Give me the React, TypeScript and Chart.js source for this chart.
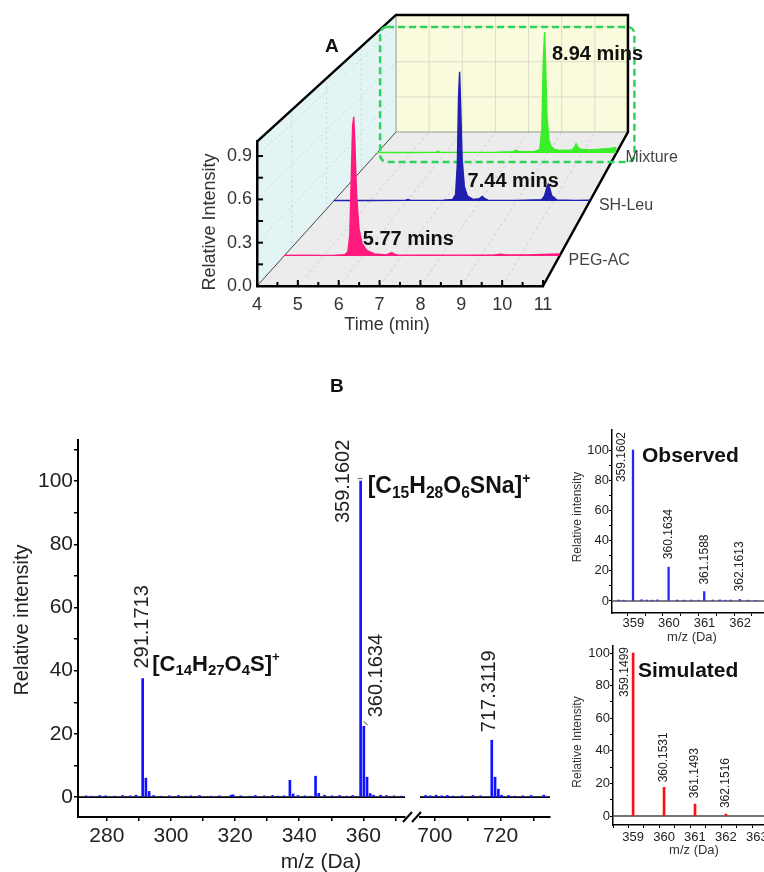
import React, { useEffect, useRef } from 'react';
import { Chart, registerables } from 'chart.js';

Chart.register(...registerables);
const FAMILY = '"Liberation Sans", Arial, Helvetica, sans-serif';
Chart.defaults.font.family = FAMILY;

// ================= Panel A : chromatograms =================
const timeTicks = [4, 5, 6, 7, 8, 9, 10, 11];
const timeMinorTicks = [4, 4.5, 5, 5.5, 6, 6.5, 7, 7.5, 8, 8.5, 9, 9.5, 10, 10.5, 11];
const intensityTicks = [0, 0.3, 0.6, 0.9];
const intensityMinorTicks = [0, 0.15, 0.3, 0.45, 0.6, 0.75, 0.9];
const traceNames = ['PEG-AC', 'SH-Leu', 'Mixture'];
const retentionTimes = [5.77, 7.44, 8.94];
const retentionLabels = ['5.77 mins', '7.44 mins', '8.94 mins'];

const pegTime = [4.0, 4.5, 5.0, 5.3, 5.55, 5.62, 5.67, 5.71, 5.74, 5.77, 5.8, 5.84, 5.9, 5.98, 6.1, 6.3, 6.6, 6.68, 6.74, 6.8, 6.9, 7.5, 8.5, 9.35, 9.5, 9.65, 10.2, 10.8, 11.0];
const pegIntensity = [0.004, 0.006, 0.004, 0.005, 0.01, 0.03, 0.15, 0.6, 0.93, 1.0, 0.8, 0.45, 0.2, 0.09, 0.04, 0.015, 0.008, 0.018, 0.024, 0.012, 0.006, 0.005, 0.006, 0.008, 0.013, 0.008, 0.008, 0.012, 0.014];

const shTime = [4.0, 5.0, 5.95, 6.03, 6.1, 7.0, 7.25, 7.33, 7.38, 7.41, 7.44, 7.47, 7.51, 7.57, 7.65, 7.8, 7.98, 8.06, 8.13, 8.22, 9.0, 9.68, 9.76, 9.82, 9.86, 9.9, 9.96, 10.1, 10.6, 11.0];
const shIntensity = [0.004, 0.004, 0.005, 0.012, 0.005, 0.006, 0.012, 0.05, 0.3, 0.8, 1.0, 0.72, 0.32, 0.11, 0.04, 0.012, 0.018, 0.035, 0.018, 0.006, 0.005, 0.01, 0.04, 0.1, 0.13, 0.1, 0.04, 0.008, 0.005, 0.006];

const mixTime = [4.0, 5.0, 5.72, 5.78, 5.84, 6.5, 7.5, 7.98, 8.06, 8.14, 8.6, 8.76, 8.82, 8.86, 8.9, 8.93, 8.97, 9.03, 9.1, 9.2, 9.35, 9.7, 9.78, 9.82, 9.86, 9.95, 10.2, 10.5, 10.8, 11.0];
const mixIntensity = [0.004, 0.004, 0.005, 0.014, 0.005, 0.005, 0.006, 0.01, 0.022, 0.012, 0.01, 0.03, 0.2, 0.75, 1.0, 0.72, 0.3, 0.1, 0.05, 0.03, 0.02, 0.025, 0.05, 0.075, 0.05, 0.03, 0.025, 0.03, 0.038, 0.045];

// ================= Panel B : mass spectra =================
const mainLeftTicks = [280, 290, 300, 310, 320, 330, 340, 350, 360, 370];
const mainRightTicks = [700, 710, 720, 730];
const relIntTicks = [0, 10, 20, 30, 40, 50, 60, 70, 80, 90, 100, 110];

const leftPeakMz = [291.17, 292.17, 293.18, 337.1, 338.1, 345.1, 346.1, 359.16, 360.16, 361.16, 362.16, 363.17];
const leftPeakInt = [37.5, 6.0, 1.8, 5.3, 1.0, 6.6, 1.2, 100, 22.4, 6.3, 1.1, 0.6];
const leftNoiseMz = [273.5, 275.2, 277.8, 279.6, 282.4, 284.9, 287.3, 289.1, 294.6, 296.8, 299.5, 302.3, 304.7, 306.2, 308.9, 312.5, 315.1, 318.7, 319.4, 321.8, 324.6, 326.3, 329.1, 331.7, 333.4, 335.2, 339.6, 341.8, 343.5, 347.9, 350.2, 352.6, 354.8, 356.7, 365.4, 367.2, 369.6, 371.8];
const leftNoiseInt = [0.4, 0.3, 0.5, 0.4, 0.3, 0.5, 0.4, 0.6, 0.5, 0.3, 0.4, 0.5, 0.3, 0.4, 0.5, 0.3, 0.4, 0.6, 0.7, 0.4, 0.3, 0.5, 0.4, 0.5, 0.3, 0.4, 0.5, 0.4, 0.3, 0.6, 0.4, 0.5, 0.3, 0.5, 0.6, 0.5, 0.4, 0.3];
const rightPeakMz = [717.31, 718.31, 719.31, 720.31];
const rightPeakInt = [18, 6.3, 2.5, 0.6];
const rightNoiseMz = [697.2, 698.6, 700.4, 702.1, 703.8, 705.5, 708.3, 711.6, 713.9, 722.4, 724.2, 726.7, 729.3, 733.1];
const rightNoiseInt = [0.5, 0.4, 0.6, 0.4, 0.5, 0.3, 0.4, 0.5, 0.4, 0.5, 0.3, 0.4, 0.5, 0.6];

const mainLeftLabelIdx = [0, 7, 8];
const mainLeftLabelText = ['291.1713', '359.1602', '360.1634'];
const mainRightLabelText = ['717.3119'];
const formulaIdx = [0, 7];
const formulaText = ['[C14H27O4S]+', '[C15H28O6SNa]+'];

// Observed / simulated isotope patterns
const obsMz = [359.16, 360.16, 361.16, 362.16];
const obsInt = [100, 22.4, 6.2, 1.0];
const obsLabels = ['359.1602', '360.1634', '361.1588', '362.1613'];
const obsNoiseMz = [358.75, 358.9, 359.4, 359.55, 359.7, 359.85, 360.4, 360.6, 360.8, 361.0, 361.4, 361.6, 361.75, 361.9, 362.4, 362.6];
const obsNoiseInt = [0.6, 0.5, 0.8, 0.6, 0.5, 0.7, 0.6, 0.5, 0.6, 0.5, 0.6, 0.7, 0.5, 0.6, 0.5, 0.4];
const simMz = [359.15, 360.15, 361.15, 362.15];
const simInt = [100, 17.6, 7.3, 1.2];
const simLabels = ['359.1499', '360.1531', '361.1493', '362.1516'];
const obsMzTicks = [359, 359.5, 360, 360.5, 361, 361.5, 362, 362.5];
const simMzTicks = [358.5, 359, 359.5, 360, 360.5, 361, 361.5, 362, 362.5, 363];
const insetIntTicks = [0, 10, 20, 30, 40, 50, 60, 70, 80, 90, 100];

// ================= helpers =================
type Pt = [number, number];
type Box = [number, number, number, number];

function seg(ctx: CanvasRenderingContext2D, a: Pt, b: Pt, color: string, width: number, dash: number[] = []) {
  ctx.save();
  ctx.beginPath();
  ctx.setLineDash(dash);
  ctx.strokeStyle = color;
  ctx.lineWidth = width;
  ctx.moveTo(a[0], a[1]);
  ctx.lineTo(b[0], b[1]);
  ctx.stroke();
  ctx.restore();
}
function fillPoly(ctx: CanvasRenderingContext2D, pts: Pt[], color: string) {
  ctx.save();
  ctx.beginPath();
  pts.forEach((p, i) => (i ? ctx.lineTo(p[0], p[1]) : ctx.moveTo(p[0], p[1])));
  ctx.closePath();
  ctx.fillStyle = color;
  ctx.fill();
  ctx.restore();
}
function strokePath(ctx: CanvasRenderingContext2D, pts: Pt[], color: string, width: number) {
  ctx.save();
  ctx.beginPath();
  pts.forEach((p, i) => (i ? ctx.lineTo(p[0], p[1]) : ctx.moveTo(p[0], p[1])));
  ctx.strokeStyle = color;
  ctx.lineWidth = width;
  ctx.lineJoin = 'miter';
  ctx.stroke();
  ctx.restore();
}
function text(ctx: CanvasRenderingContext2D, s: string, x: number, y: number, font: string, color: string, align: CanvasTextAlign = 'left', baseline: CanvasTextBaseline = 'alphabetic', rot = 0) {
  ctx.save();
  ctx.translate(x, y);
  if (rot) ctx.rotate(rot);
  ctx.font = font;
  ctx.fillStyle = color;
  ctx.textAlign = align;
  ctx.textBaseline = baseline;
  ctx.fillText(s, 0, 0);
  ctx.restore();
}
// vertical label reading upward, starting at (x, yBottom)
function vLabel(ctx: CanvasRenderingContext2D, s: string, x: number, yBottom: number, size: number) {
  text(ctx, s, x, yBottom, `${size}px ${FAMILY}`, '#222', 'left', 'middle', -Math.PI / 2);
}
function formula(ctx: CanvasRenderingContext2D, s: string, x: number, y: number, size: number) {
  const toks: { t: string; k: string }[] = [];
  for (let i = 0; i < s.length; i++) {
    const ch = s[i];
    const k = /\d/.test(ch) ? 'sub' : ch === '+' && i === s.length - 1 ? 'sup' : 'n';
    if (toks.length && toks[toks.length - 1].k === k) toks[toks.length - 1].t += ch;
    else toks.push({ t: ch, k });
  }
  ctx.save();
  ctx.fillStyle = '#111';
  ctx.textBaseline = 'alphabetic';
  ctx.textAlign = 'left';
  let cx = x;
  for (const tk of toks) {
    let fs = size, dy = 0;
    if (tk.k === 'sub') { fs = size * 0.68; dy = size * 0.2; }
    if (tk.k === 'sup') { fs = size * 0.6; dy = -size * 0.42; }
    ctx.font = `bold ${fs}px ${FAMILY}`;
    ctx.fillText(tk.t, cx, y + dy);
    cx += ctx.measureText(tk.t).width;
  }
  ctx.restore();
}

function placeScales(boxes: Record<string, Box>) {
  return {
    id: 'placeScales',
    afterLayout(chart: any) {
      for (const id of Object.keys(boxes)) {
        const s = chart.scales[id];
        if (!s) continue;
        const [l, r, t, b] = boxes[id];
        s.left = l; s.right = r; s.top = t; s.bottom = b;
        s.width = r - l; s.height = b - t;
        s.configure();
      }
    },
  };
}

const baseOptions = {
  animation: false,
  responsive: false,
  maintainAspectRatio: false,
  devicePixelRatio: 1,
  events: [],
  layout: { padding: 0 },
  plugins: { legend: { display: false }, tooltip: { enabled: false } },
};

// ================= Panel A geometry (pseudo-3D box) =================
const A = { left: 257, bottom: 286, width: 286, height: 144.4, dx: 139, dy: 154, k: 0.811 };
const TRACE_DEPTH = [0.195, 0.552, 0.864];
const TRACE_COLORS = ['#ff1a7d', '#1f1fb0', '#3aee2a'];
const RT_LABEL_DX = [9, 8, 6];
const RT_LABEL_LEVEL = [0.08, 0.11, 0.77];

function aProj(tf: number, vf: number, d: number): Pt {
  const s = 1 - (1 - A.k) * d;
  return [A.left + A.dx * d + tf * A.width * s, A.bottom - A.dy * d - vf * A.height * s];
}

const panelADecor = {
  id: 'panelADecor',
  beforeDraw(chart: any) {
    const ctx = chart.ctx as CanvasRenderingContext2D;
    const P = aProj;
    fillPoly(ctx, [P(0, 0, 0), P(0, 1, 0), P(0, 1, 1), P(0, 0, 1)], '#e2f4f4');
    fillPoly(ctx, [P(0, 0, 0), P(1, 0, 0), P(1, 0, 1), P(0, 0, 1)], '#ececec');
    fillPoly(ctx, [P(0, 0, 1), P(1, 0, 1), P(1, 1, 1), P(0, 1, 1)], '#fafadc');
    for (const t of timeTicks.slice(1, -1)) {
      const tf = (t - 4) / 7;
      seg(ctx, P(tf, 0, 1), P(tf, 1, 1), '#dcdccb', 1);
    }
    for (const v of intensityTicks.slice(1)) seg(ctx, P(0, v, 1), P(1, v, 1), '#dcdccb', 1);
    for (const t of timeTicks.slice(1)) {
      const tf = (t - 4) / 7;
      seg(ctx, P(tf, 0, 0), P(tf, 0, 1), 'rgba(150,150,150,0.45)', 0.8, [3, 3]);
    }
    for (const d of [0.25, 0.5, 0.75]) seg(ctx, P(0, 0, d), P(0, 1, d), 'rgba(140,165,165,0.45)', 0.8, [2, 3]);
    for (const v of intensityTicks.slice(1)) seg(ctx, P(0, v, 0), P(0, v, 1), 'rgba(140,165,165,0.45)', 0.8, [2, 3]);
    seg(ctx, P(0, 0, 0), P(0, 0, 1), '#444', 1);
    seg(ctx, P(0, 0, 1), P(1, 0, 1), '#999', 1);
    seg(ctx, P(0, 0, 1), P(0, 1, 1), '#999', 1);
    strokePath(ctx, [P(0, 1, 0), P(0, 1, 1), P(1, 1, 1), P(1, 0, 1), P(1, 0, 0)], '#000', 2.5);
  },
  beforeDatasetsDraw(chart: any) {
    const ctx = chart.ctx as CanvasRenderingContext2D;
    const xs = chart.scales.x2, ys = chart.scales.y2;
    const l = xs.left + 3, r = xs.right + 18, t = aProj(0, 1, 1)[1] + 12, b = ys.bottom + 9, rad = 7;
    ctx.save();
    ctx.beginPath();
    ctx.moveTo(l + rad, t);
    ctx.lineTo(r - rad, t); ctx.arcTo(r, t, r, t + rad, rad);
    ctx.lineTo(r, b - rad); ctx.arcTo(r, b, r - rad, b, rad);
    ctx.lineTo(l + rad, b); ctx.arcTo(l, b, l, b - rad, rad);
    ctx.lineTo(l, t + rad); ctx.arcTo(l, t, l + rad, t, rad);
    ctx.closePath();
    ctx.setLineDash([7, 4]);
    ctx.strokeStyle = '#2fd35c';
    ctx.lineWidth = 2.5;
    ctx.stroke();
    ctx.restore();
  },
  afterDraw(chart: any) {
    const ctx = chart.ctx as CanvasRenderingContext2D;
    const xs = chart.scales.x, ys = chart.scales.y;
    for (const t of timeMinorTicks) {
      const px = xs.getPixelForValue(t);
      const len = Number.isInteger(t) ? 6 : 4;
      seg(ctx, [px, xs.top], [px, xs.top - len], '#000', 2);
    }
    for (const v of intensityMinorTicks) {
      const py = ys.getPixelForValue(v);
      seg(ctx, [ys.right, py], [ys.right + 6, py], '#000', 2);
    }
    traceNames.forEach((name, i) => {
      const tx = chart.scales['x' + i], ty = chart.scales['y' + i];
      text(ctx, retentionLabels[i], tx.getPixelForValue(retentionTimes[i]) + RT_LABEL_DX[i], ty.getPixelForValue(RT_LABEL_LEVEL[i]), `bold 20px ${FAMILY}`, '#111');
      text(ctx, name, tx.right + 9, ty.bottom + 9, `16px ${FAMILY}`, '#444');
    });
    text(ctx, 'A', 325, 52, `bold 19px ${FAMILY}`, '#111');
    text(ctx, 'Relative Intensity', 210, 222, `18px ${FAMILY}`, '#333', 'center', 'middle', -Math.PI / 2);
    text(ctx, 'Time (min)', 387, 325, `18px ${FAMILY}`, '#333', 'center', 'middle');
  },
};

function buildPanelA() {
  const traces = [
    { time: pegTime, value: pegIntensity },
    { time: shTime, value: shIntensity },
    { time: mixTime, value: mixIntensity },
  ];
  const boxes: Record<string, Box> = {
    x: [A.left, A.left + A.width, A.bottom, A.bottom + 60],
    y: [A.left - 67, A.left, A.bottom - A.height, A.bottom],
  };
  const scales: any = {
    x: {
      type: 'linear', min: 4, max: 11, position: 'bottom',
      grid: { display: false, drawTicks: false },
      border: { display: true, color: '#000', width: 2.5 },
      ticks: { autoSkip: false, maxRotation: 0, minRotation: 0, padding: 8, color: '#333', font: { size: 18 }, callback: (v: number) => String(v) },
      afterBuildTicks: (s: any) => { s.ticks = timeTicks.map((v) => ({ value: v })); },
    },
    y: {
      type: 'linear', min: 0, max: 1, position: 'left',
      grid: { display: false, drawTicks: false },
      border: { display: true, color: '#000', width: 2.5 },
      ticks: { autoSkip: false, padding: 5, color: '#333', font: { size: 18 }, callback: (v: number) => Number(v).toFixed(1) },
      afterBuildTicks: (s: any) => { s.ticks = intensityTicks.map((v) => ({ value: v })); },
    },
  };
  TRACE_DEPTH.forEach((d, i) => {
    const s = 1 - (1 - A.k) * d;
    const x0 = A.left + A.dx * d;
    const y0 = A.bottom - A.dy * d;
    boxes['x' + i] = [x0, x0 + A.width * s, y0, y0];
    boxes['y' + i] = [x0, x0, y0 - A.height * s, y0];
    scales['x' + i] = { type: 'linear', display: false, min: 4, max: 11, position: 'bottom' };
    scales['y' + i] = { type: 'linear', display: false, min: 0, max: 1, position: 'left' };
  });
  return {
    type: 'line',
    data: {
      datasets: traces.map((tr, i) => ({
        label: traceNames[i],
        data: tr.time.map((t, j) => ({ x: t, y: tr.value[j] })),
        xAxisID: 'x' + i,
        yAxisID: 'y' + i,
        borderColor: TRACE_COLORS[i],
        backgroundColor: TRACE_COLORS[i],
        borderWidth: 1.4,
        pointRadius: 0,
        fill: 'origin',
        tension: 0,
        clip: false,
      })),
    },
    options: { ...baseOptions, scales },
    plugins: [placeScales(boxes), panelADecor],
  };
}

// ================= Spectrum builder =================
function spectrumConfig(p: any) {
  return {
    type: 'bar',
    data: { datasets: [{ data: p.points, backgroundColor: p.color, borderWidth: 0, barThickness: p.barWidth, clip: false }] },
    options: {
      ...baseOptions,
      scales: {
        x: {
          type: 'linear', min: p.xMin, max: p.xMax, offset: false, position: 'bottom',
          grid: { display: true, offset: false, drawOnChartArea: false, drawTicks: true, tickLength: p.tickLength, color: '#000', lineWidth: p.tickWidth },
          border: { display: true, color: '#000', width: p.axisWidth },
          ticks: { autoSkip: false, maxRotation: 0, minRotation: 0, padding: p.xPad, labelOffset: p.labelOffset || 0, color: '#222', font: { size: p.fontSize }, callback: (v: number) => p.xLabel(v) },
          afterBuildTicks: (s: any) => { s.ticks = p.xTicks.map((v: number) => ({ value: v })); },
        },
        y: {
          type: 'linear', display: p.showY, min: p.yMin, max: p.yMax, position: 'left',
          grid: { display: true, drawOnChartArea: false, drawTicks: true, tickLength: p.tickLength, color: '#000', lineWidth: p.tickWidth },
          border: { display: true, color: '#000', width: p.axisWidth },
          ticks: { autoSkip: false, padding: p.yPad, color: '#222', font: { size: p.fontSize }, callback: (v: number) => (v % 20 === 0 ? String(v) : '') },
          afterBuildTicks: (s: any) => { s.ticks = p.yTicks.map((v: number) => ({ value: v })); },
        },
      },
    },
    plugins: [placeScales(p.boxes), p.plugin],
  };
}

const zip = (xs: number[], ys: number[]) => xs.map((x, i) => ({ x, y: ys[i] }));

// main left labels style: dx from peak, dy = text bottom relative to peak top
const MAIN_LABEL_OFF = [[0, -10], [-17, 42], [13, -9]];
const FORMULA_OFF = [[9.5, -8], [7, 12]];

const mainLeftDecor = {
  id: 'mainLeftDecor',
  beforeDatasetsDraw(chart: any) {
    const { x, y } = chart.scales;
    const y0 = y.getPixelForValue(0);
    seg(chart.ctx, [x.left, y0], [x.right, y0], '#000', 1.6);
  },
  afterDatasetsDraw(chart: any) {
    const ctx = chart.ctx as CanvasRenderingContext2D;
    const { x, y } = chart.scales;
    mainLeftLabelIdx.forEach((idx, i) => {
      const px = x.getPixelForValue(leftPeakMz[idx]);
      const top = y.getPixelForValue(leftPeakInt[idx]);
      vLabel(ctx, mainLeftLabelText[i], px + MAIN_LABEL_OFF[i][0], top + MAIN_LABEL_OFF[i][1], 20);
    });
    // small leader marks
    {
      const px = x.getPixelForValue(leftPeakMz[8]), top = y.getPixelForValue(leftPeakInt[8]);
      seg(ctx, [px, top - 5], [px + 4, top - 1], '#333', 1);
      const px2 = x.getPixelForValue(leftPeakMz[7]), top2 = y.getPixelForValue(leftPeakInt[7]);
      seg(ctx, [px2 - 3, top2 - 2.5], [px2 + 2, top2 - 2.5], '#666', 1);
    }
    formulaIdx.forEach((idx, i) => {
      const px = x.getPixelForValue(leftPeakMz[idx]);
      const top = y.getPixelForValue(leftPeakInt[idx]);
      formula(ctx, formulaText[i], px + FORMULA_OFF[i][0], top + FORMULA_OFF[i][1], i === 0 ? 22 : 23);
    });
    text(ctx, 'B', 330, 32, `bold 19px ${FAMILY}`, '#111');
    text(ctx, 'Relative intensity', 22, 260, `20px ${FAMILY}`, '#222', 'center', 'middle', -Math.PI / 2);
    text(ctx, 'm/z (Da)', 321, 502, `21px ${FAMILY}`, '#222', 'center', 'middle');
  },
};

const mainRightDecor = {
  id: 'mainRightDecor',
  beforeDatasetsDraw(chart: any) {
    const { x, y } = chart.scales;
    const y0 = y.getPixelForValue(0);
    seg(chart.ctx, [x.left, y0], [x.right, y0], '#000', 1.6);
  },
  afterDatasetsDraw(chart: any) {
    const ctx = chart.ctx as CanvasRenderingContext2D;
    const { x, y } = chart.scales;
    const px = x.getPixelForValue(rightPeakMz[0]);
    const top = y.getPixelForValue(rightPeakInt[0]);
    vLabel(ctx, mainRightLabelText[0], px - 2, top - 8, 20);
    // axis break marks
    const ax = x.left, ay = x.top;
    seg(ctx, [ax - 17, ay + 5], [ax - 8, ay - 5], '#000', 2);
    seg(ctx, [ax - 8, ay + 5], [ax + 1, ay - 5], '#000', 2);
  },
};

function buildMainLeft() {
  return spectrumConfig({
    points: zip(leftPeakMz.concat(leftNoiseMz), leftPeakInt.concat(leftNoiseInt)),
    color: '#1212ff', barWidth: 2,
    xMin: 271, xMax: 373, xTicks: mainLeftTicks, xLabel: (v: number) => (v % 20 === 0 ? String(v) : ''),
    yMin: -6.3, yMax: 113, yTicks: relIntTicks, showY: true,
    tickLength: 4, tickWidth: 1.5, axisWidth: 2, xPad: 3, yPad: 1, fontSize: 21,
    boxes: { x: [78, 405, 457, 515], y: [0, 78, 80, 457] },
    plugin: mainLeftDecor,
  });
}
function buildMainRight() {
  return spectrumConfig({
    points: zip(rightPeakMz.concat(rightNoiseMz), rightPeakInt.concat(rightNoiseInt)),
    color: '#1212ff', barWidth: 2,
    xMin: 695.5, xMax: 735, xTicks: mainRightTicks, xLabel: (v: number) => (v % 20 === 0 ? String(v) : ''),
    yMin: -6.3, yMax: 113, yTicks: relIntTicks, showY: false,
    tickLength: 4, tickWidth: 1.5, axisWidth: 2, xPad: 3, yPad: 1, fontSize: 21,
    boxes: { x: [22, 152, 457, 515], y: [22, 152, 80, 457] },
    plugin: mainRightDecor,
  });
}

function insetDecor(id: string, mz: number[], ints: number[], labels: string[], offs: number[][], title: string, titlePos: Pt, yTitle: string, yTitlePos: Pt, xTitlePos: Pt, zeroColor: string) {
  return {
    id,
    beforeDatasetsDraw(chart: any) {
      const { x, y } = chart.scales;
      const y0 = y.getPixelForValue(0);
      seg(chart.ctx, [x.left, y0], [x.right, y0], zeroColor, 1.6);
    },
    afterDatasetsDraw(chart: any) {
      const ctx = chart.ctx as CanvasRenderingContext2D;
      const { x, y } = chart.scales;
      mz.forEach((m, i) => {
        const px = x.getPixelForValue(m);
        const top = y.getPixelForValue(ints[i]);
        vLabel(ctx, labels[i], px + offs[i][0], top + offs[i][1], 12);
      });
      text(ctx, title, titlePos[0], titlePos[1], `bold 21px ${FAMILY}`, '#111');
      text(ctx, yTitle, yTitlePos[0], yTitlePos[1], `12px ${FAMILY}`, '#333', 'center', 'middle', -Math.PI / 2);
      text(ctx, 'm/z (Da)', xTitlePos[0], xTitlePos[1], `13px ${FAMILY}`, '#333', 'center', 'middle');
    },
  };
}

function buildObserved() {
  return spectrumConfig({
    points: zip(obsMz.concat(obsNoiseMz), obsInt.concat(obsNoiseInt)),
    color: '#2424ff', barWidth: 1.6,
    xMin: 358.57, xMax: 362.84, xTicks: obsMzTicks, xLabel: (v: number) => (Number.isInteger(v) ? String(v) : ''), labelOffset: 6,
    yMin: -8, yMax: 113.3, yTicks: insetIntTicks, showY: true,
    tickLength: 3, tickWidth: 1, axisWidth: 1.5, xPad: 0, yPad: 0, fontSize: 13,
    boxes: { x: [52, 204, 193, 230], y: [0, 52, 10, 193] },
    plugin: insetDecor('obsDecor', obsMz, obsInt, obsLabels, [[-11, 32], [0, -8], [0, -7], [0, -8]], 'Observed', [82, 42], 'Relative intensity', [18, 97], [132, 217], '#555'),
  });
}
function buildSimulated() {
  return spectrumConfig({
    points: zip(simMz, simInt),
    color: '#ff1010', barWidth: 2,
    xMin: 358.5, xMax: 363.38, xTicks: simMzTicks, xLabel: (v: number) => (Number.isInteger(v) ? String(v) : ''), labelOffset: 4.6,
    yMin: -5.5, yMax: 104.3, yTicks: insetIntTicks, showY: true,
    tickLength: 3, tickWidth: 1, axisWidth: 1.5, xPad: 2, yPad: 0, fontSize: 13,
    boxes: { x: [53, 204, 195, 242], y: [0, 53, 16, 195] },
    plugin: insetDecor('simDecor', simMz, simInt, simLabels, [[-8, 44], [0, -5], [0, -6], [0, -6]], 'Simulated', [78, 47], 'Relative Intensity', [18, 112], [134, 220], '#444'),
  });
}

function ChartCanvas({ x, y, w, h, build }: { x: number; y: number; w: number; h: number; build: () => any }) {
  const ref = useRef<HTMLCanvasElement | null>(null);
  useEffect(() => {
    if (!ref.current) return;
    const chart = new Chart(ref.current, build());
    return () => chart.destroy();
  }, [build]);
  return <canvas ref={ref} width={w} height={h} style={{ position: 'absolute', left: x, top: y, width: w, height: h }} />;
}

export default function App() {
  return (
    <div style={{ position: 'absolute', left: 0, top: 0, width: 764, height: 872, background: '#fff', overflow: 'hidden' }}>
      <ChartCanvas x={0} y={0} w={764} h={400} build={buildPanelA} />
      <ChartCanvas x={0} y={360} w={560} h={512} build={buildMainLeft} />
      <ChartCanvas x={398} y={360} w={166} h={512} build={buildMainRight} />
      <ChartCanvas x={560} y={420} w={204} h={230} build={buildObserved} />
      <ChartCanvas x={560} y={630} w={204} h={242} build={buildSimulated} />
    </div>
  );
}
